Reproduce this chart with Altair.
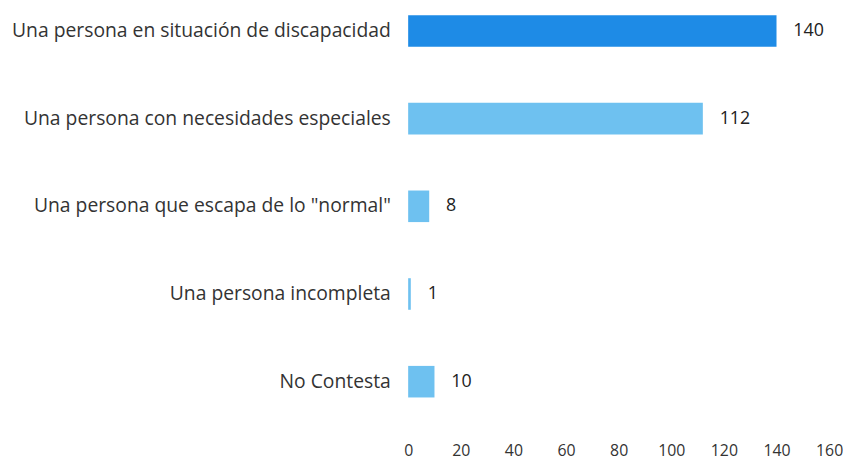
import altair as alt
import pandas as pd

categories = [
    "Una persona en situación de discapacidad",
    "Una persona con necesidades especiales",
    'Una persona que escapa de lo "normal"',
    "Una persona incompleta",
    "No Contesta",
]
values = [140, 112, 8, 1, 10]
colors = ["#1E8BE6", "#6EC1F0", "#6EC1F0", "#6EC1F0", "#6EC1F0"]
x_ticks = [0, 20, 40, 60, 80, 100, 120, 140, 160]

df = pd.DataFrame({"cat": categories, "val": values, "color": colors})

font = "Open Sans"

y_enc = alt.Y(
    "cat:N",
    sort=categories,
    title=None,
    scale=alt.Scale(paddingInner=0.64, paddingOuter=0),
    axis=alt.Axis(
        domain=False, ticks=False, labelPadding=18, labelFontSize=19.5,
        labelFont=font, labelColor="#333333", labelLimit=400,
    ),
)
x_enc = alt.X(
    "val:Q",
    title=None,
    scale=alt.Scale(domain=[0, 160], nice=False),
    axis=alt.Axis(
        values=x_ticks, domain=False, ticks=False, grid=False,
        labelFlush=False, labelPadding=46, labelFontSize=16,
        labelFont=font, labelColor="#333333",
    ),
)

bars = alt.Chart(df).mark_bar().encode(
    y=y_enc, x=x_enc, color=alt.Color("color:N", scale=None)
)
labels = alt.Chart(df).mark_text(
    align="left", dx=17, fontSize=18, font=font, color="#222222"
).encode(y=alt.Y("cat:N", sort=categories), x=alt.X("val:Q"), text="val:Q")

chart = (
    alt.layer(bars, labels)
    .properties(
        width=425, height=386,
        background="white",
        autosize=alt.AutoSizeParams(type="none"),
        padding={"left": 404, "top": 5, "right": 14, "bottom": 68},
    )
    .configure_view(strokeWidth=0, stroke=None)
    .configure_axis(grid=False)
)

chart.save("out.html", embed_options={"renderer": "svg", "actions": False})
